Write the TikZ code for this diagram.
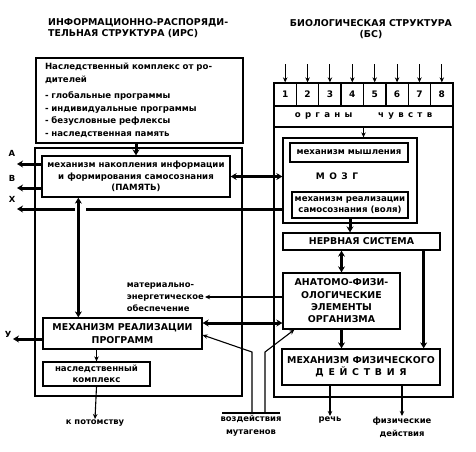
\documentclass[tikz,border=0pt]{standalone}
\usepackage{fontspec}
\setmainfont{DejaVu Sans}
\usetikzlibrary{arrows.meta,positioning,calc}

\begin{document}
\begin{tikzpicture}[
        x=1pt, y=-1pt,
        box/.style={draw, line width=1.3pt, inner sep=1pt, align=center,
            font=\fontsize{8.6}{11.5}\selectfont\bfseries},
        capsbox/.style={box, font=\fontsize{9.4}{12.3}\selectfont\bfseries},
        frame/.style={draw, line width=1.9pt, inner sep=0pt},
        cell/.style={draw, line width=1.3pt, inner sep=0pt,
            minimum width=22.375pt, minimum height=23pt, font=\fontsize{9}{10}\selectfont\bfseries},
        head/.style={font=\fontsize{9.4}{11.5}\selectfont\bfseries, inner sep=0pt},
        lbl/.style={font=\fontsize{8.4}{13}\selectfont\bfseries, align=center, inner sep=1pt},
        arr/.style={-{Stealth[length=5pt,width=4.5pt]}, line width=1.1pt},
        fat/.style={-{Stealth[length=6pt,width=7pt]}, line width=3pt},
        fatboth/.style={{Stealth[length=6pt,width=7pt]}-{Stealth[length=6pt,width=7pt]}, line width=3pt},
        plain/.style={line width=1.1pt},
    ]
    \useasboundingbox (0,0) rectangle (476,451);

    % Headings
    \node[head, anchor=north west, align=left] (irsT) at (48,18)
        {ИНФОРМАЦИОННО-РАСПОРЯДИ-\\ТЕЛЬНАЯ СТРУКТУРА (ИРС)};
    \node[head, align=center] (bsT) at (371,29)
        {БИОЛОГИЧЕСКАЯ СТРУКТУРА\\(БС)};

    % Information structure (left)
    \node[box, minimum width=207pt, minimum height=85pt, text width=189pt,
        align=left, inner sep=5pt, font=\fontsize{8.6}{12.5}\selectfont\bfseries]
        (parents) at (139.5,100.5) {
        Наследственный комплекс от ро-\\
        дителей\\[4pt]
        - глобальные программы\\
        - индивидуальные программы\\
        - безусловные рефлексы\\
        - наследственная память};
    \node[frame, minimum width=207pt, minimum height=248pt] (irs) at (138.5,272) {};
    \node[box, minimum width=188pt, minimum height=41pt] (memory) at (136,176.5)
        {механизм накопления информации\\и формирования самосознания\\(ПАМЯТЬ)};
    \node[capsbox, minimum width=159pt, minimum height=31pt] (realiz) at (122.5,333.5)
        {МЕХАНИЗМ РЕАЛИЗАЦИИ\\ПРОГРАММ};
    \node[box, minimum width=107pt, minimum height=24pt,
        font=\fontsize{8.6}{10.5}\selectfont\bfseries] (hered) at (96.5,374)
        {наследственный\\комплекс};

    % Biological structure (right)
    \node[frame, minimum width=179pt, minimum height=314pt] (bs) at (363.5,240) {};
    \foreach \i in {1,...,8} {
        \node[cell] (s\i) at ({274+22.375*(\i-0.5)},94.5) {\i};
        \coordinate (in\i) at ({274+22.375*(\i-0.5)},64);
        \draw[arr] (in\i) -- (s\i.north);
    }
    \node[box, minimum width=179pt, minimum height=21pt] (senses) at (363.5,116.5)
        {о\enspace р\enspace г\enspace а\enspace н\enspace ы\qquad\quad
         ч\enspace у\enspace в\enspace с\enspace т\enspace в};
    \node[box, minimum width=134pt, minimum height=85pt] (brain) at (350,180.5) {};
    \node[box, minimum width=118pt, minimum height=19pt] (think) at (349,152.5)
        {механизм мышления};
    \node[lbl, font=\fontsize{9}{10}\selectfont\bfseries] (mozg) at (337,176.5) {М\enspace О\enspace З\enspace Г};
    \node[box, minimum width=116pt, minimum height=26pt,
        font=\fontsize{8.6}{10.5}\selectfont\bfseries] (will) at (350,205)
        {механизм реализации\\самосознания (воля)};
    \node[capsbox, minimum width=157pt, minimum height=17pt] (nerve) at (361.5,241.5)
        {НЕРВНАЯ СИСТЕМА};
    \node[capsbox, minimum width=117pt, minimum height=56pt] (anat) at (341.5,301)
        {АНАТОМО-ФИЗИ-\\ОЛОГИЧЕСКИЕ\\ЭЛЕМЕНТЫ\\ОРГАНИЗМА};
    \node[capsbox, minimum width=158pt, minimum height=36pt] (phys) at (361,367)
        {МЕХАНИЗМ ФИЗИЧЕСКОГО\\Д\enspace Е\enspace Й\enspace С\enspace Т\enspace В\enspace И\enspace Я};

    % Outputs and labels
    \coordinate (aEnd) at (17,164);
    \coordinate (bEnd) at (17,188);
    \coordinate (xEnd) at (17,209);
    \coordinate (xL) at (75,209);
    \coordinate (xR) at (86,209);
    \coordinate (uEnd) at (13,339);
    \node[lbl] (aT) at (12,153) {А};
    \node[lbl] (bT) at (12,178) {В};
    \node[lbl] (xT) at (12,199) {Х};
    \node[lbl] (uT) at (8,334) {У};
    \node[lbl, align=left, anchor=east, font=\fontsize{8.4}{12.3}\selectfont\bfseries]
        (mat) at (205,297) {материально-\\энергетическое\\обеспечение};
    \node[lbl, anchor=north] (heir) at (95,419) {к потомству};
    \node[lbl, anchor=north] (speech) at (330,416) {речь};
    \node[lbl, anchor=north] (acts) at (402,416) {физические\\действия};
    \node[lbl, anchor=north, inner sep=2pt] (mut) at (251,413) {воздействия\\мутагенов};
    \coordinate (mL) at (252,352);
    \coordinate (mR) at (265,352);

    % Connections inside IRS
    \draw[fat] (memory.north |- parents.south) -- (memory.north);
    \draw[fat] ([yshift=12.5pt]memory.west) -- (aEnd);
    \draw[fat] ([yshift=-11.5pt]memory.west) -- (bEnd);
    \draw[line width=3pt] ([yshift=-28.5pt]brain.west) -- (xR);
    \draw[fat] (xL) -- (xEnd);
    \draw[fatboth] ([xshift=37pt]memory.south west)
        -- ([xshift=37pt]memory.south west |- realiz.north);
    \draw[fatboth] (memory.east) -- (memory.east -| brain.west);
    \draw[fat] ([yshift=-5.5pt]realiz.west) -- (uEnd);
    \draw[arr] (hered.north |- realiz.south) -- (hered.north);
    \draw[arr] (hered.south) -- (heir.north);

    % Connections inside BS
    \draw[arr] (senses.south) -- (senses.south |- brain.north);
    \draw[fat] (will.south) -- (will.south |- nerve.north);
    \draw[fatboth] (anat.north |- nerve.south) -- (anat.north);
    \draw[fat] ([xshift=-17pt]nerve.south east) -- ([xshift=-17pt]nerve.south east |- phys.north);
    \draw[fat] (anat.south) -- (anat.south |- phys.north);
    \draw[arr] ([xshift=-31pt]phys.south) -- (speech.north);
    \draw[arr] ([xshift=41pt]phys.south) -- (acts.north);

    % Between the structures
    \draw[fatboth] ([yshift=10.5pt]realiz.east) -- ([yshift=10.5pt]realiz.east -| anat.west);
    \draw[arr] ([yshift=4pt]anat.west) -- (mat.east);
    \draw[plain] ([xshift=4pt]mut.north west) -- ([xshift=-4pt]mut.north east);
    \draw[arr] (mut.north -| mL) -- (mL) -- ([yshift=-1.5pt]realiz.east);
    \draw[arr] (mut.north -| mR) -- (mR) -- ([xshift=12pt]anat.south west);
\end{tikzpicture}
\end{document}
